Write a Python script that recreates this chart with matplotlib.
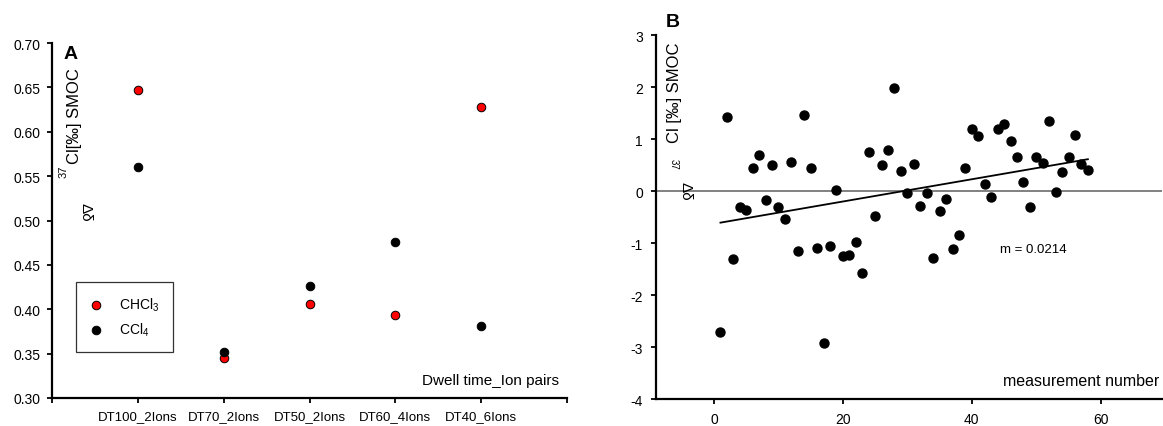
import matplotlib
matplotlib.use("Agg")
import matplotlib.pyplot as plt
import numpy as np

plt.rcParams['font.family'] = ['Liberation Sans', 'DejaVu Sans']
plt.rcParams['mathtext.fontset'] = 'custom'
plt.rcParams['mathtext.rm'] = 'Liberation Sans'
plt.rcParams['axes.unicode_minus'] = False

# ---------------- Panel A data ----------------
categories = ["DT100_2Ions", "DT70_2Ions", "DT50_2Ions", "DT60_4Ions", "DT40_6Ions"]
chcl3 = [0.647, 0.345, 0.406, 0.394, 0.628]
ccl4 = [0.560, 0.352, 0.426, 0.476, 0.381]
a_yticks = [0.30, 0.35, 0.40, 0.45, 0.50, 0.55, 0.60, 0.65, 0.70]

# ---------------- Panel B data ----------------
meas_num = list(range(1, 59))
meas_val = [-2.72, 1.43, -1.31, -0.31, -0.37, 0.44, 0.69, -0.17, 0.50, -0.30,
            -0.53, 0.56, -1.15, 1.47, 0.44, -1.09, -2.92, -1.06, 0.02, -1.25,
            -1.23, -0.99, -1.58, 0.75, -0.48, 0.50, 0.78, 1.98, 0.38, -0.04,
            0.52, -0.29, -0.03, -1.29, -0.39, -0.15, -1.12, -0.85, 0.44, 1.19,
            1.05, 0.14, -0.12, 1.19, 1.29, 0.96, 0.65, 0.17, -0.31, 0.65,
            0.53, 1.35, -0.02, 0.37, 0.66, 1.08, 0.52, 0.40]
slope = 0.0214
intercept = -0.630
b_yticks = [-4, -3, -2, -1, 0, 1, 2, 3]
b_xticks = [0, 20, 40, 60]

W, H = 1163, 427
fig = plt.figure(figsize=(W / 100, H / 100), dpi=100)


def fx(px):
    return px / W


def fy(py):
    return 1 - py / H


axA = fig.add_axes([fx(52), fy(399), fx(567) - fx(52), fy(44) - fy(399)])
axB = fig.add_axes([fx(656), fy(400), fx(1162) - fx(656), fy(36) - fy(400)])

for ax in (axA, axB):
    ax.spines['top'].set_visible(False)
    ax.spines['right'].set_visible(False)
    for s in ('left', 'bottom'):
        ax.spines[s].set_linewidth(1.6)
        ax.spines[s].set_color('black')
    ax.tick_params(direction='out', length=3.5, width=1.3, colors='black',
                   labelsize=10)

# ---- Panel A ----
xpos = np.arange(1, len(categories) + 1)
axA.scatter(xpos, chcl3, s=38, color='#ff0000', edgecolor='black',
            linewidth=0.7, zorder=3, label='CHCl$_3$')
axA.scatter(xpos, ccl4, s=38, color='black', edgecolor='black',
            linewidth=0.7, zorder=3, label='CCl$_4$')
axA.set_xlim(0, len(categories) + 1)
axA.set_ylim(0.30, 0.70)
axA.set_yticks(a_yticks)
axA.set_yticklabels([f"{v:.2f}" for v in a_yticks])
axA.set_xticks(np.arange(0, len(categories) + 2))
axA.set_xticklabels([""] + categories + [""], fontsize=9.5)
axA.tick_params(axis='x', pad=5)
axA.tick_params(axis='y', pad=5)
leg = axA.legend(loc='lower left', bbox_to_anchor=(0.047, 0.13), fontsize=10,
                 frameon=True, fancybox=False, edgecolor='black',
                 handlelength=0.8, handletextpad=1.3, borderpad=1.0,
                 labelspacing=0.55, borderaxespad=0, scatterpoints=1)
leg.get_frame().set_linewidth(0.9)
axA.text(0.985, 0.03, "Dwell time_Ion pairs", transform=axA.transAxes,
         ha='right', va='bottom', fontsize=11)
axA.text(0.022, 0.995, "A", transform=axA.transAxes, ha='left', va='top',
         fontsize=14, fontweight='bold')

# y label pieces for A
fig.text(fx(74.5), fy(116), "Cl[‰] SMOC", rotation=90, ha='center',
         va='center', fontsize=12)
fig.text(fx(64), fy(172), "37", rotation=90, ha='center', va='center',
         fontsize=8)
fig.text(fx(86), fy(212), "Δδ", rotation=-90, ha='center', va='center',
         fontsize=11)

# ---- Panel B ----
axB.axhline(0, color='#808080', linewidth=1.4, zorder=1)
axB.scatter(meas_num, meas_val, s=42, color='black', zorder=3)
xl = np.array([min(meas_num), max(meas_num)])
axB.plot(xl, slope * xl + intercept, color='black', linewidth=1.3, zorder=2)
axB.set_xlim(-9, 69.5)
axB.set_ylim(-4, 3)
axB.set_yticks(b_yticks)
axB.set_xticks(b_xticks)
axB.tick_params(axis='x', pad=6)
axB.tick_params(axis='y', pad=6)
axB.text(44.3, -1.12, f"m = {slope}", ha='left', va='center', fontsize=9.5)
axB.text(0.995, 0.03, "measurement number", transform=axB.transAxes,
         ha='right', va='bottom', fontsize=11.5)
fig.text(fx(666), fy(14), "B", ha='left', va='top', fontsize=14,
         fontweight='bold')

fig.text(fx(675), fy(92.5), "Cl [‰] SMOC", rotation=90, ha='center',
         va='center', fontsize=12)
fig.text(fx(674), fy(164), "37", rotation=-90, ha='center', va='center',
         fontsize=7)
fig.text(fx(686), fy(191), "Δδ", rotation=-90, ha='center', va='center',
         fontsize=11)

fig.savefig("out.png", dpi=100)
